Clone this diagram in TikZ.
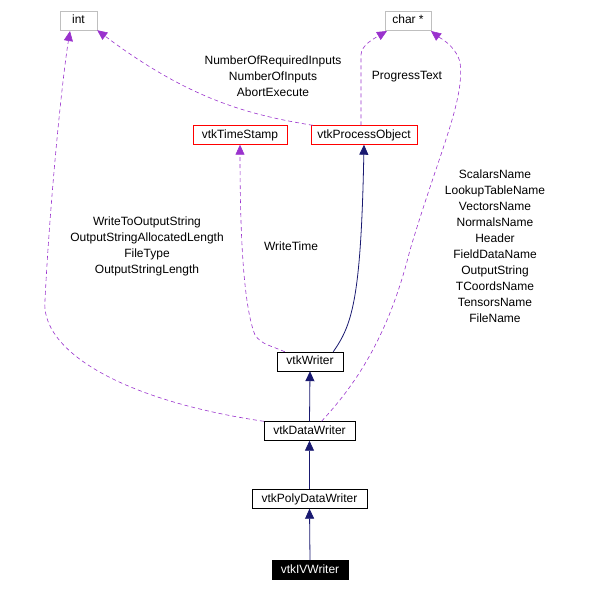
\documentclass[tikz,border=0pt]{standalone}
\usepackage{fontspec}
\setmainfont{Liberation Sans}
\usetikzlibrary{arrows.meta}
\definecolor{purp}{HTML}{9A32CD}
\definecolor{navy}{HTML}{191970}
\definecolor{grayb}{HTML}{BFBFBF}
\begin{document}
\begin{tikzpicture}[x=1pt,y=-1pt,
  cls/.style={draw=black,fill=white,font=\fontsize{12}{14}\selectfont,inner sep=0pt,minimum height=19pt,text height=8.5pt,text depth=2.5pt},
  ext/.style={cls,draw=grayb},
  red/.style={cls,draw=red},
  lbl/.style={font=\fontsize{12}{16}\selectfont,align=center,inner sep=0pt},
  use/.style={purp,dashed,dash pattern=on 4pt off 3pt,-{Triangle[length=10pt,width=9pt]},line width=0.6pt},
  inh/.style={navy,-{Triangle[length=10pt,width=9pt]},line width=0.8pt}]
\useasboundingbox (0,0) rectangle (589,592);
\node[ext,minimum width=37pt] (int) at (78.5,20.5) {int};
\node[ext,minimum width=46pt] (char) at (408,20.5) {char *};
\node[red,minimum width=94pt] (ts) at (240,135) {vtkTimeStamp};
\node[red,minimum width=106pt] (po) at (364,135) {vtkProcessObject};
\node[cls,minimum width=66pt] (w) at (310,361.5) {vtkWriter};
\node[cls,minimum width=91pt] (dw) at (309.5,431) {vtkDataWriter};
\node[cls,minimum width=115pt] (pdw) at (309.5,499) {vtkPolyDataWriter};
\node[cls,fill=black,text=white,minimum width=76pt] (iv) at (310,570) {vtkIVWriter};

\node[lbl] (l1) at (273,76) {NumberOfRequiredInputs\\NumberOfInputs\\AbortExecute};
\node[lbl] (l2) at (407,77) {ProgressText};
\node[lbl] (l3) at (495,246) {ScalarsName\\LookupTableName\\VectorsName\\NormalsName\\Header\\FieldDataName\\OutputString\\TCoordsName\\TensorsName\\FileName};
\node[lbl] (l4) at (147,246) {WriteToOutputString\\OutputStringAllocatedLength\\FileType\\OutputStringLength};
\node[lbl] (l5) at (291,246) {WriteTime};

\draw[inh] (iv.north) -- (pdw.south);
\draw[inh] (pdw.north) -- (dw.south);
\draw[inh] (dw.north) -- (w.south);
\draw[inh] (w.north east) ++(-10,0) .. controls (352,325) and (361,300) .. (po.south);
\draw[use] (w.north west) ++(8,0) .. controls (270,345) and (262,345) .. (255,335) .. controls (245,310) and (240,250) .. (ts.south);
\draw[use] (po.north west) ++(2,0) .. controls (250,115) and (190,100) .. (int.south east);
\draw[use] (dw.north west) .. controls (120,400) and (40,350) .. (45,300) .. controls (50,200) and (62,80) .. (70,31);
\draw[use] (po.north) ++(-3,0) -- (361,55) .. controls (361,45) and (375,38) .. (387,31);
\draw[use] (dw.north) ++(12,0) .. controls (360,380) and (390,330) .. (410,250) .. controls (440,150) and (465,100) .. (460,62) .. controls (455,45) and (440,38) .. (431,31);
\end{tikzpicture}
\end{document}
